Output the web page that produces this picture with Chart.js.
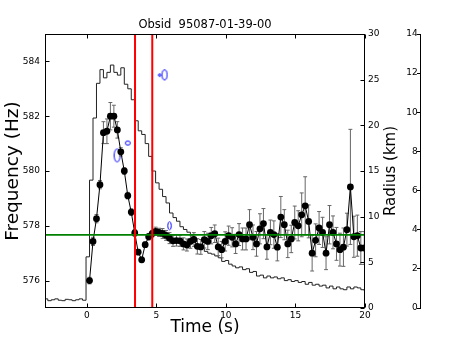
<!DOCTYPE html>
<html><head><meta charset="utf-8">
<script src="https://cdn.jsdelivr.net/npm/chart.js@4/dist/chart.umd.min.js"></script>
<style>html,body{margin:0;padding:0;background:#fff;}#wrap{width:457px;height:343px;}</style>
</head><body><div id="wrap"><canvas id="c" width="457" height="343"></canvas></div>
<script>
const titleText = 'Obsid  95087-01-39-00';
const xTitle = 'Time (s)';
const yTitle = 'Frequency (Hz)';
const radiusTitle = 'Radius (km)';
const xTicks = [0, 5, 10, 15, 20];
const freqTicks = [576, 578, 580, 582, 584];
const radiusTicks = [0, 5, 10, 15, 20, 25, 30];
const thirdTicks = [0, 2, 4, 6, 8, 10, 12, 14];

const pointTimes = [0.2,0.45,0.7,0.95,1.2,1.45,1.7,1.95,2.2,2.45,2.7,2.95,3.2,3.45,3.7,3.95,4.2,4.45,4.7,4.95,
5.2,5.45,5.7,5.95,6.2,6.45,6.7,6.95,7.2,7.45,7.7,7.95,8.2,8.45,8.7,8.95,9.2,9.45,9.7,9.95,
10.2,10.45,10.7,10.95,11.2,11.45,11.7,11.95,12.2,12.45,12.7,12.95,13.2,13.45,13.7,13.95,14.2,14.45,14.7,14.95,
15.2,15.45,15.7,15.95,16.2,16.45,16.7,16.95,17.2,17.45,17.7,17.95,18.2,18.45,18.7,18.95,19.2,19.45,19.7,19.95];
const freqValues = [576.0,577.43,578.26,579.5,581.4,581.45,582.0,582.0,581.5,580.7,
580.0,579.1,578.5,577.74,577.04,576.76,577.31,577.6,577.71,577.8,
577.76,577.72,577.65,577.55,577.45,577.46,577.45,577.34,577.3,577.43,
577.5,577.25,577.23,577.49,577.43,577.64,577.71,577.23,577.13,577.43,
577.64,577.58,577.34,577.68,577.52,577.52,578.04,577.58,577.34,577.89,
578.08,577.23,577.76,577.68,577.22,578.32,578.04,577.34,577.52,578.12,
578.0,578.4,578.73,578.16,577.0,577.47,577.92,577.76,577.0,578.04,
577.76,577.34,577.13,577.22,577.86,579.42,577.6,577.64,577.19,577.19];
const freqErrors = [0.12,0.15,0.15,0.15,0.4,0.45,0.5,0.4,0.3,0.15,
0.12,0.12,0.12,0.12,0.1,0.1,0.1,0.12,0.12,0.15,
0.15,0.18,0.18,0.2,0.2,0.2,0.2,0.22,0.22,0.25,
0.25,0.28,0.27,0.3,0.3,0.3,0.32,0.32,0.3,0.35,
0.35,0.35,0.35,0.4,0.4,0.4,0.55,0.45,0.45,0.55,
0.55,0.45,0.45,0.5,0.5,0.75,0.55,0.5,0.5,0.6,
0.55,0.8,1.06,0.6,0.65,0.6,0.6,0.55,0.6,0.7,
0.6,0.6,0.6,0.7,0.6,2.1,0.75,0.75,0.6,0.6];

const histEdges = [-3.05,-2.8,-2.55,-2.3,-2.05,-1.8,-1.55,-1.3,-1.05,-0.8,-0.55,-0.3,-0.05,0.2,0.45,0.7,0.95,1.2,1.45,1.7,
1.95,2.2,2.45,2.7,2.95,3.2,3.45,3.7,3.95,4.2,4.45,4.7,4.95,5.2,5.45,5.7,5.95,6.2,6.45,6.7,
6.95,7.2,7.45,7.7,7.95,8.2,8.45,8.7,8.95,9.2,9.45,9.7,9.95,10.2,10.45,10.7,10.95,11.2,11.45,11.7,
11.95,12.2,12.45,12.7,12.95,13.2,13.45,13.7,13.95,14.2,14.45,14.7,14.95,15.2,15.45,15.7,15.95,16.2,16.45,16.7,
16.95,17.2,17.45,17.7,17.95,18.2,18.45,18.7,18.95,19.2,19.45,19.7,19.95,20.2];
const histValues = [1.0,0.8,0.9,1.0,0.85,0.8,0.95,0.9,0.8,0.9,1.0,0.85,
5.6,14.0,20.8,24.6,26.1,25.2,25.8,26.6,25.8,25.5,
26.3,24.5,24.0,22.8,20.5,19.4,19.0,18.0,16.6,15.0,
13.7,13.0,12.2,11.5,10.4,9.9,9.5,8.9,8.6,8.3,
7.9,7.3,6.9,6.6,6.2,6.0,5.9,5.7,5.5,5.1,
5.2,4.8,4.6,4.4,4.5,4.2,4.3,3.9,4.0,3.5,
3.6,3.3,3.5,3.3,3.4,3.2,3.3,3.0,3.1,2.9,
3.0,2.8,2.9,2.6,2.8,2.5,2.6,2.4,2.5,2.2,
2.4,2.1,2.3,2.1,2.0,2.3,2.1,2.3,2.2,2.0,1.85];

const markerTimes = [3.47, 4.71];
const refFreq = 577.67;

const contourTimes = [5.59, 5.24, 2.18, 2.95, 5.95];
const contourFreqs = [583.51, 583.5, 580.57, 581.02, 578.0];
</script>
<script>
// styles / geometry (not data)
const contourShapes = [[5,10],[2.5,2.5],[6,13],[5,4],[3.5,8]];
const FONT = 'DejaVu Sans';
Chart.defaults.font.family = FONT;
Chart.defaults.color = '#000';

function ellipseCanvas(w, h) {
  const c = document.createElement('canvas');
  c.width = Math.ceil(w + 3); c.height = Math.ceil(h + 3);
  const g = c.getContext('2d');
  g.strokeStyle = '#0000ff'; g.lineWidth = 1;
  g.beginPath(); g.ellipse(c.width/2, c.height/2, w/2, h/2, 0, 0, 2*Math.PI); g.stroke();
  return c;
}
const contourStyles = contourShapes.map(s => ellipseCanvas(s[0], s[1]));

const histData = histValues.map((v, i) => ({x: histEdges[i], y: v}));
histData.push({x: histEdges[histEdges.length-1], y: histValues[histValues.length-1]});
const pointData = pointTimes.map((t, i) => ({x: t, y: freqValues[i]}));
const capHalf = 0.14;
const errData = [];
pointTimes.forEach((t, i) => {
  const lo = freqValues[i] - freqErrors[i], hi = freqValues[i] + freqErrors[i];
  errData.push({x:t,y:lo},{x:t,y:hi},{x:t,y:null},
    {x:t-capHalf,y:hi},{x:t+capHalf,y:hi},{x:t,y:null},
    {x:t-capHalf,y:lo},{x:t+capHalf,y:lo},{x:t,y:null});
});
const contourData = contourTimes.map((t, i) => ({x: t, y: contourFreqs[i]}));

const framePlugin = {
  id: 'frame',
  afterDatasetsDraw(chart) {
    const {ctx, chartArea: a, scales} = chart;
    ctx.save();
    ctx.strokeStyle = '#000'; ctx.lineWidth = 1;
    const L = Math.round(a.left) + 0.5, R = Math.round(a.right) - 0.5;
    const T = Math.round(a.top) + 0.5, B = Math.round(a.bottom) - 0.5;
    ctx.strokeRect(L, T, R - L, B - T);
    const tl = 4;
    ctx.beginPath();
    scales.x.ticks.forEach(t => {
      const p = Math.round(scales.x.getPixelForValue(t.value)) + 0.5;
      ctx.moveTo(p, B); ctx.lineTo(p, B - tl);
      ctx.moveTo(p, T); ctx.lineTo(p, T + tl);
    });
    scales.y.ticks.forEach(t => {
      const p = Math.round(scales.y.getPixelForValue(t.value)) + 0.5;
      ctx.moveTo(L, p); ctx.lineTo(L + tl, p);
    });
    scales.y1.ticks.forEach(t => {
      const p = Math.round(scales.y1.getPixelForValue(t.value)) + 0.5;
      ctx.moveTo(R, p); ctx.lineTo(R - tl, p);
    });
    ctx.stroke();
    ctx.restore();
  },
  afterDraw(chart) {
    const {ctx, chartArea: a} = chart;
    ctx.save();
    ctx.translate(a.right + 26, (a.top + a.bottom) / 2);
    ctx.rotate(-Math.PI / 2);
    ctx.font = '15px ' + FONT;
    ctx.fillStyle = '#000';
    ctx.textAlign = 'center'; ctx.textBaseline = 'middle';
    ctx.fillText(radiusTitle, 0, 0);
    ctx.restore();
  }
};

new Chart(document.getElementById('c'), {
  type: 'line',
  data: {
    datasets: [
      {data: [{x: markerTimes[0], y: 575}, {x: markerTimes[0], y: 585}], borderColor: '#ff0000', borderWidth: 2, pointRadius: 0, order: 0, yAxisID: 'y'},
      {data: [{x: markerTimes[1], y: 575}, {x: markerTimes[1], y: 585}], borderColor: '#ff0000', borderWidth: 2, pointRadius: 0, order: 0, yAxisID: 'y'},
      {data: [{x: -3, y: refFreq}, {x: 20, y: refFreq}], borderColor: '#008000', borderWidth: 1.7, pointRadius: 0, order: 1, yAxisID: 'y'},
      {data: pointData, borderColor: '#000', borderWidth: 1, pointRadius: 3.4, pointBackgroundColor: '#000', pointBorderWidth: 0, order: 2, yAxisID: 'y'},
      {data: errData, borderColor: '#666', borderWidth: 1, pointRadius: 0, spanGaps: false, order: 3, yAxisID: 'y'},
      {data: contourData, showLine: false, pointStyle: contourStyles, pointRadius: 5, order: 4, yAxisID: 'y'},
      {data: histData, stepped: true, borderColor: '#222', borderWidth: 1, pointRadius: 0, order: 5, yAxisID: 'y1'}
    ]
  },
  options: {
    responsive: false,
    animation: false,
    events: [],
    layout: {padding: {left: 0, right: 72, top: 0, bottom: 0}},
    plugins: {legend: {display: false}, tooltip: {enabled: false}, title: {display: false}},
    scales: {
      x: {
        type: 'linear', position: 'bottom', min: -3, max: 20,
        afterBuildTicks: s => { s.ticks = xTicks.map(v => ({value: v})); },
        afterFit: s => { s.height = 35; },
        grid: {display: false, drawTicks: false}, border: {display: false},
        ticks: {font: {size: 9}, padding: 2, maxRotation: 0},
        title: {display: true, text: xTitle, font: {size: 17}, padding: {top: 0, bottom: 5}}
      },
      x2: {
        type: 'linear', position: 'top', min: -3, max: 20,
        afterFit: s => { s.height = 34; },
        grid: {display: false, drawTicks: false}, border: {display: false},
        ticks: {display: false},
        title: {display: true, text: titleText, font: {size: 11.5}, padding: {top: 18, bottom: 0}}
      },
      y: {
        type: 'linear', position: 'left', min: 575, max: 585,
        afterBuildTicks: s => { s.ticks = freqTicks.map(v => ({value: v})); },
        afterFit: s => { s.width = 45; },
        grid: {display: false, drawTicks: false}, border: {display: false},
        ticks: {font: {size: 9}, padding: 5},
        title: {display: true, text: yTitle, font: {size: 18.5}, padding: {top: 2, bottom: 0}}
      },
      y1: {
        type: 'linear', position: 'right', min: 0, max: 30,
        afterBuildTicks: s => { s.ticks = radiusTicks.map(v => ({value: v})); },
        afterFit: s => { s.width = 20; },
        grid: {display: false, drawTicks: false}, border: {display: false},
        ticks: {font: {size: 9}, padding: 3}
      },
      y2: {
        type: 'linear', position: {x: 24}, min: 0, max: 14,
        afterBuildTicks: s => { s.ticks = thirdTicks.map(v => ({value: v})); },
        grid: {display: true, drawOnChartArea: false, drawTicks: true, tickLength: 3, color: '#000'},
        border: {display: true, color: '#000', width: 1},
        ticks: {font: {size: 9}, padding: 1, callback: v => v + ' '}
      }
    }
  },
  plugins: [framePlugin]
});
</script>
</body></html>
